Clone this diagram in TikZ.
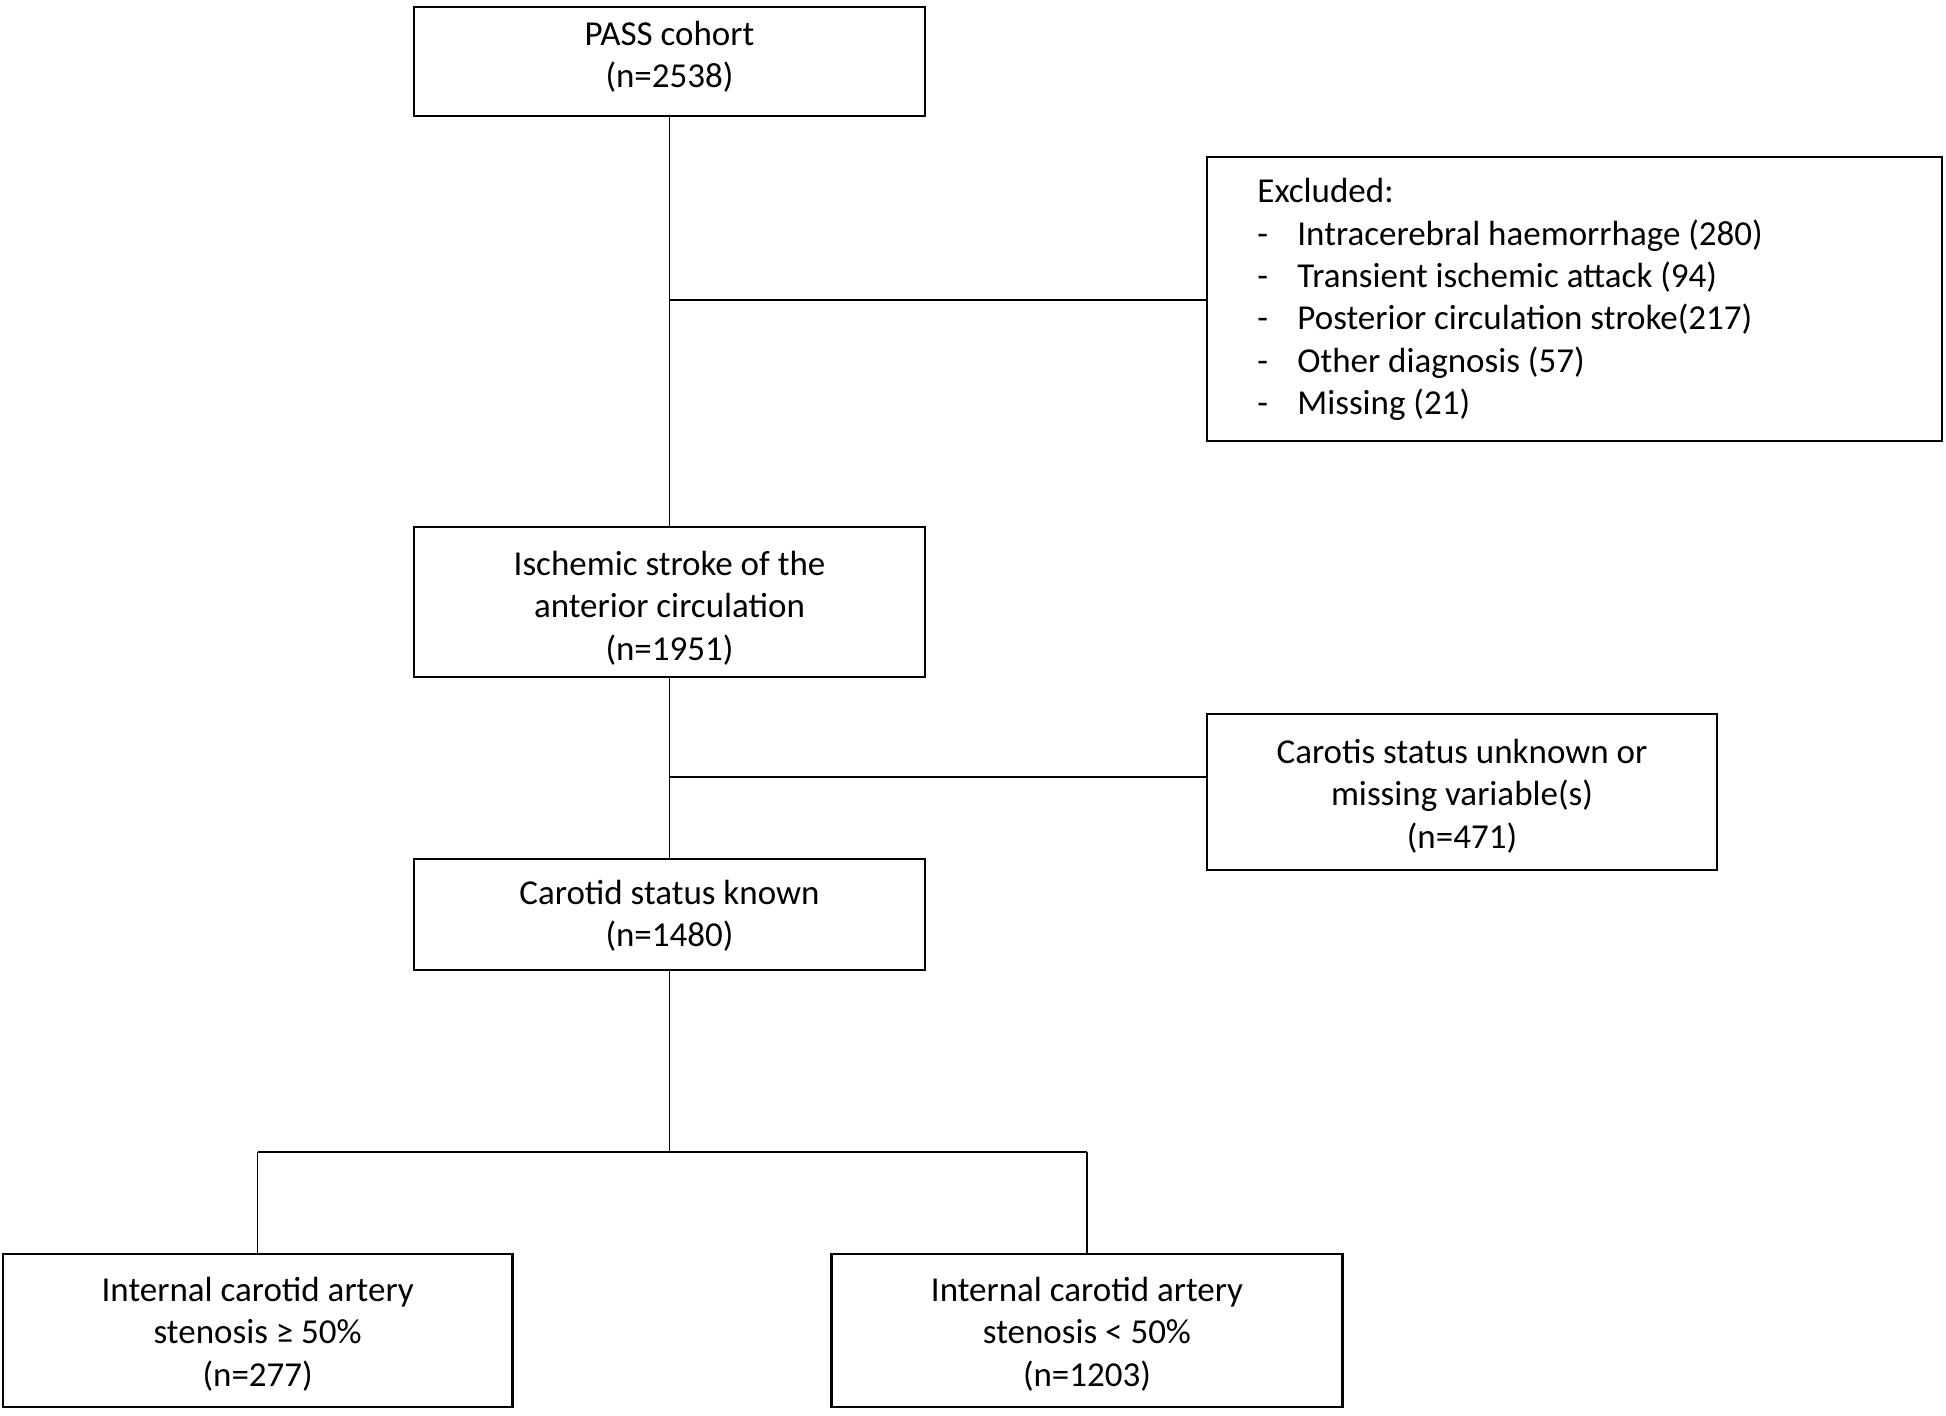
\documentclass[tikz,border=0pt]{standalone}
\usepackage{fontspec}
\setmainfont{Carlito}
\begin{document}
\begin{tikzpicture}[x=0.5pt,y=-0.5pt,
  box/.style={draw=black, line width=1.3pt, fill=white, inner sep=0pt},
  txt/.style={inner sep=0pt, align=center, font=\fontsize{17.5pt}{21.15pt}\selectfont},
  conn/.style={draw=black, line width=0.75pt}]
\useasboundingbox (0,0) rectangle (1946,1416);

% boxes
\node[box, minimum width=255.5pt, minimum height=54.5pt] (pass) at (669.5,61.5) {};
\node[box, minimum width=367.5pt, minimum height=142pt] (excl) at (1574.5,299) {};
\node[box, minimum width=255.5pt, minimum height=75pt] (isch) at (669.5,602) {};
\node[box, minimum width=255pt, minimum height=78pt] (unk) at (1462,792) {};
\node[box, minimum width=255.5pt, minimum height=55.5pt] (known) at (669.5,914.5) {};
\node[box, minimum width=254.75pt, minimum height=76.5pt] (left) at (257.7,1330.5) {};
\node[box, minimum width=255.6pt, minimum height=76.5pt] (right) at (1087,1330.5) {};

% texts
\node[txt] (passT) at (669.5,57) {PASS cohort\\(n=2538)};
\node[txt, align=left, anchor=west] (exclT) at (1257,299.5)
  {Excluded:\\
   \makebox[20pt][l]{-}Intracerebral haemorrhage (280)\\
   \makebox[20pt][l]{-}Transient ischemic attack (94)\\
   \makebox[20pt][l]{-}Posterior circulation stroke(217)\\
   \makebox[20pt][l]{-}Other diagnosis (57)\\
   \makebox[20pt][l]{-}Missing (21)};
\node[txt] (ischT) at (669.5,608) {Ischemic stroke of the\\anterior circulation\\(n=1951)};
\node[txt] (unkT) at (1462,796) {Carotis status unknown or\\missing variable(s)\\(n=471)};
\node[txt] (knownT) at (669.5,916) {Carotid status known\\(n=1480)};
\node[txt] (leftT) at (257.7,1334) {Internal carotid artery\\stenosis ≥ 50\%\\(n=277)};
\node[txt] (rightT) at (1087,1334) {Internal carotid artery\\stenosis < 50\%\\(n=1203)};

% connectors
\coordinate (j1) at (669.5,300);
\coordinate (j2) at (669.5,777);
\coordinate (j3) at (669.5,1152);
\draw[conn] (pass.south) -- (isch.north);
\draw[conn] (j1) -- (j1 -| excl.west);
\draw[conn] (isch.south) -- (known.north);
\draw[conn] (j2) -- (j2 -| unk.west);
\draw[conn] (known.south) -- (j3);
\draw[conn] (j3 -| left.north) -- (j3 -| right.north);
\draw[conn] (j3 -| left.north) -- (left.north);
\draw[conn] (j3 -| right.north) -- (right.north);
\end{tikzpicture}
\end{document}
